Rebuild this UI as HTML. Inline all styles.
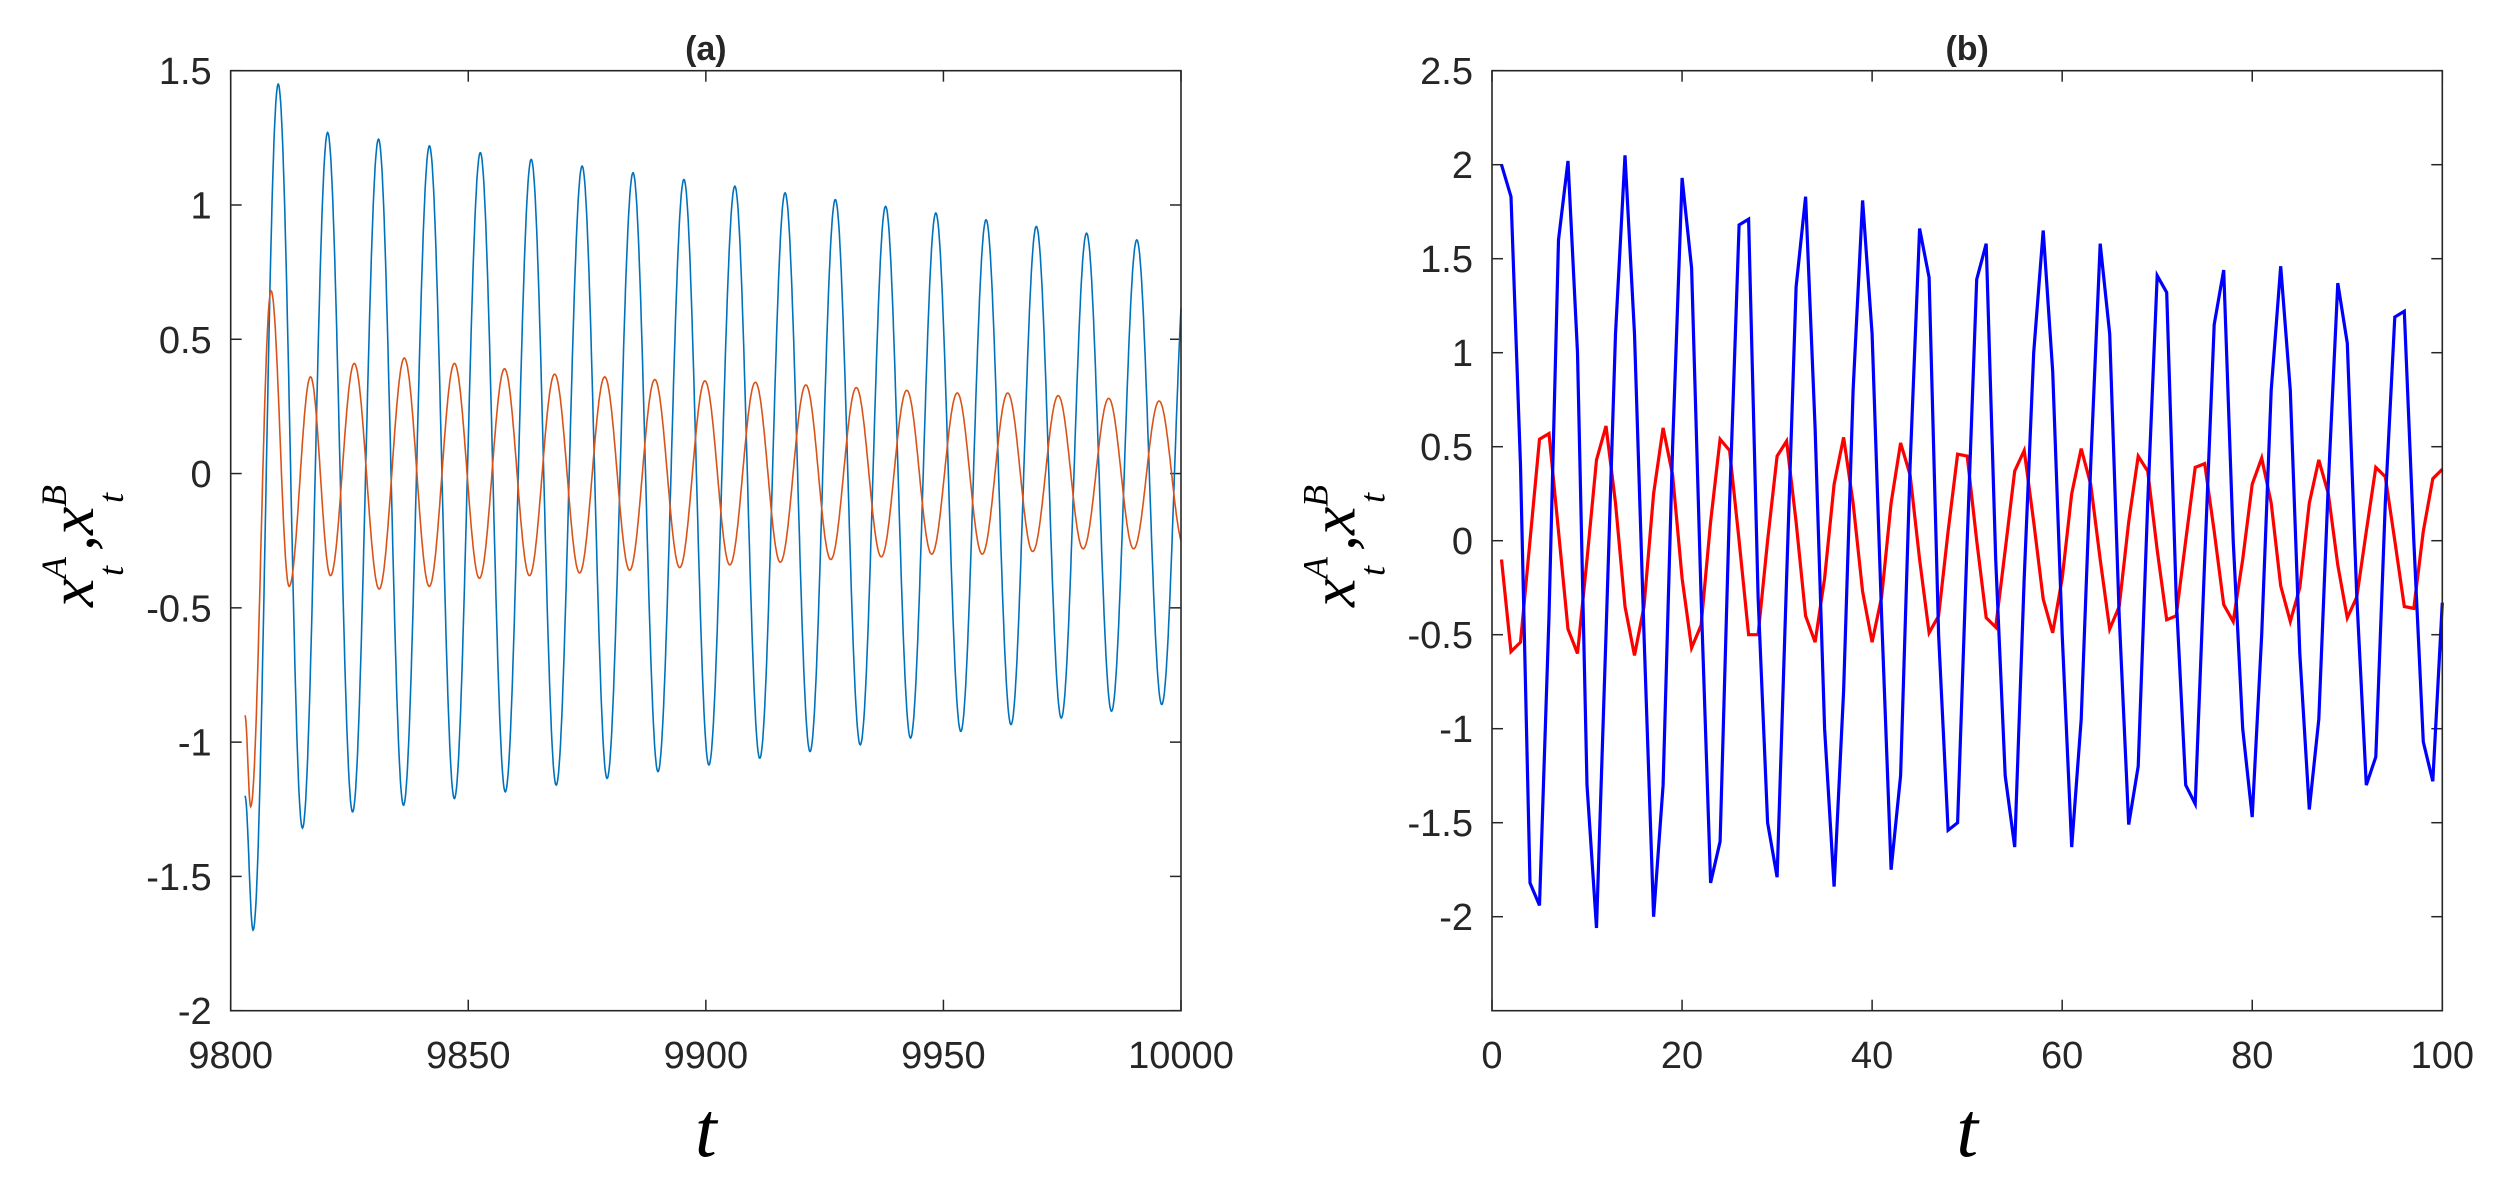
<!DOCTYPE html>
<html><head><meta charset="utf-8"><style>
html,body{margin:0;padding:0;background:#fff;}
svg{display:block;}
text{font-family:"Liberation Sans",Arial,sans-serif;fill:#262626;}
.ser{font-family:"Liberation Serif","Times New Roman",serif;font-style:italic;fill:#000;}
</style></head><body>
<svg id="s" width="2499" height="1204" viewBox="0 0 2499 1204" xmlns="http://www.w3.org/2000/svg"></svg>
<script>
const S=document.getElementById('s');let h='';
const T=70.7,B=1010.7;
function axes(L,R,xmin,xmax,ymin,ymax,xt,yt,title){
  const X=v=>L+(v-xmin)/(xmax-xmin)*(R-L), Y=v=>B-(v-ymin)/(ymax-ymin)*(B-T);
  let o='';
  xt.forEach(v=>{const x=X(v);o+=`<line x1="${x}" y1="${B}" x2="${x}" y2="${B-11}" stroke="#262626" stroke-width="1.5"/><line x1="${x}" y1="${T}" x2="${x}" y2="${T+11}" stroke="#262626" stroke-width="1.5"/><text x="${x}" y="${1068}" font-size="38" text-anchor="middle">${v}</text>`;});
  yt.forEach(v=>{const y=Y(v);o+=`<line x1="${L}" y1="${y}" x2="${L+11}" y2="${y}" stroke="#262626" stroke-width="1.5"/><line x1="${R}" y1="${y}" x2="${R-11}" y2="${y}" stroke="#262626" stroke-width="1.5"/><text x="${L-19}" y="${y+13.5}" font-size="38" text-anchor="end">${v}</text>`;});
  o+=`<text x="${(L+R)/2}" y="60" font-size="34" font-weight="bold" text-anchor="middle" fill="#000">${title}</text>`;
  o+=`<text class="ser" x="${(L+R)/2}" y="1156" font-size="78" text-anchor="middle">t</text>`;
  const ox=L-137.7;
  o+=`<g transform="translate(${ox},607) rotate(-90)">
<text class="ser" x="0" y="0" font-size="64">x</text>
<text class="ser" x="28" y="-27" font-size="36">A</text>
<text class="ser" x="31" y="30" font-size="36">t</text>
<text class="ser" x="56" y="0" font-size="64">,</text>
<text class="ser" x="72" y="0" font-size="64">x</text>
<text class="ser" x="100" y="-27" font-size="36">B</text>
<text class="ser" x="104" y="30" font-size="36">t</text></g>`;
  return {o,X,Y};
}
function interp(ext,t0,t1,step){
  const pts=[];
  for(let t=t0;t<=t1+1e-9;t+=step){
    let i=0;while(i<ext.length-2&&ext[i+1][0]<t)i++;
    const a=ext[i],b=ext[i+1];let f=(t-a[0])/(b[0]-a[0]);f=Math.max(0,Math.min(1,f));
    pts.push([t,a[1]+(b[1]-a[1])*(1-Math.cos(Math.PI*f))/2]);
  }
  return pts;
}
function pk(k,k0,t0,k1,t1,k2,t2){return k<=k1? t0+(t1-t0)*(k-k0)/(k1-k0) : t1+(t2-t1)*(k-k1)/(k2-k1);}
// panel a
let A=axes(230.7,1181,9800,10000,-2,1.5,[9800,9850,9900,9950,10000],[-2,-1.5,-1,-0.5,0,0.5,1,1.5],'(a)');
h+=A.o;
let be=[[9803,-1.2],[9804.7,-1.7],[9810,1.45],[9815.1,-1.32]];
for(let k=0;k<19;k++){const p=pk(k,0,9820.4,8,9906.1,16,9990.7);be.push([p,1.27-0.4*k/16]);be.push([p+5.25,-(1.26-0.4*k/16)]);}
let re=[[9803,-0.9],[9804.2,-1.24],[9808.5,0.68],[9812.3,-0.42],[9816.8,0.36],[9821,-0.38]];
const rp=[0.41,0.43,0.41,0.39,0.37,0.36,0.35,0.345,0.34,0.33,0.32,0.31,0.30,0.30,0.29,0.28,0.27,0.27];
const rt=[-0.43,-0.42,-0.39,-0.38,-0.37,-0.36,-0.35,-0.34,-0.33,-0.32,-0.31,-0.30,-0.30,-0.29,-0.28,-0.28,-0.27,-0.27];
for(let k=0;k<18;k++){const p=pk(k,0,9826,7,9899.8,16,9995.4);re.push([p,rp[k]]);re.push([p+5.25,rt[k]]);}
function path(pts,X,Y){return 'M'+pts.map(p=>X(p[0]).toFixed(1)+','+Y(p[1]).toFixed(1)).join('L');}
h+=`<path d="${path(interp(be,9803,10000,0.1),A.X,A.Y)}" fill="none" stroke="#0072BD" stroke-width="1.6"/>`;
h+=`<path d="${path(interp(re,9803,10000,0.1),A.X,A.Y)}" fill="none" stroke="#D95319" stroke-width="1.6"/>`;
h+=`<rect x="230.7" y="70.7" width="${1181-230.7}" height="940" fill="none" stroke="#262626" stroke-width="1.6"/>`;
// panel b
let Bp=axes(1492,2442.3,0,100,-2.5,2.5,[0,20,40,60,80,100],[-2,-1.5,-1,-0.5,0,0.5,1,1.5,2,2.5],'(b)');
h+=Bp.o;
const bl=[2.0,1.83,0.4,-1.82,-1.94,-0.4,1.6,2.02,1.0,-1.3,-2.06,-0.5,1.1,2.05,1.1,-0.5,-2.0,-1.3,0.5,1.93,1.45,-0.3,-1.82,-1.6,0.2,1.68,1.71,-0.3,-1.5,-1.79,-0.2,1.35,1.83,0.6,-1.0,-1.84,-0.8,0.8,1.81,1.1,-0.4,-1.75,-1.25,0.4,1.66,1.4,-0.5,-1.54,-1.5,0.0,1.39,1.58,-0.1,-1.25,-1.63,-0.2,1.0,1.65,0.9,-0.5,-1.63,-0.95,0.4,1.58,1.1,-0.4,-1.51,-1.2,0.2,1.41,1.32,-0.3,-1.3,-1.4,-0.1,1.15,1.44,0.0,-1.0,-1.47,-0.5,0.8,1.46,0.8,-0.6,-1.43,-0.95,0.3,1.37,1.05,-0.3,-1.3,-1.15,0.2,1.19,1.22,0.0,-1.07,-1.28,-0.33];
const rd=[-0.1,-0.59,-0.54,0.0,0.54,0.57,0.05,-0.47,-0.6,-0.1,0.43,0.61,0.2,-0.35,-0.61,-0.35,0.25,0.6,0.35,-0.2,-0.57,-0.45,0.1,0.54,0.48,0.0,-0.5,-0.5,0.0,0.45,0.53,0.1,-0.4,-0.54,-0.2,0.3,0.55,0.2,-0.27,-0.54,-0.3,0.2,0.52,0.35,-0.1,-0.49,-0.4,0.05,0.46,0.45,0.0,-0.41,-0.46,-0.05,0.37,0.48,0.1,-0.31,-0.49,-0.2,0.25,0.49,0.3,-0.1,-0.47,-0.35,0.1,0.45,0.37,-0.05,-0.42,-0.4,0.0,0.39,0.41,0.05,-0.34,-0.43,-0.1,0.3,0.44,0.2,-0.24,-0.43,-0.25,0.2,0.43,0.25,-0.13,-0.41,-0.3,0.05,0.39,0.34,0.0,-0.35,-0.36,0.05,0.33,0.38];
h+=`<path d="${path(rd.map((v,i)=>[i+1,v]),Bp.X,Bp.Y)}" fill="none" stroke="#FF0000" stroke-width="3.2" stroke-linejoin="miter"/>`;
h+=`<path d="${path(bl.map((v,i)=>[i+1,v]),Bp.X,Bp.Y)}" fill="none" stroke="#0000FF" stroke-width="3.2" stroke-linejoin="miter"/>`;
h+=`<rect x="1492" y="70.7" width="${2442.3-1492}" height="940" fill="none" stroke="#262626" stroke-width="1.6"/>`;
S.innerHTML=h;
</script>
</body></html>
